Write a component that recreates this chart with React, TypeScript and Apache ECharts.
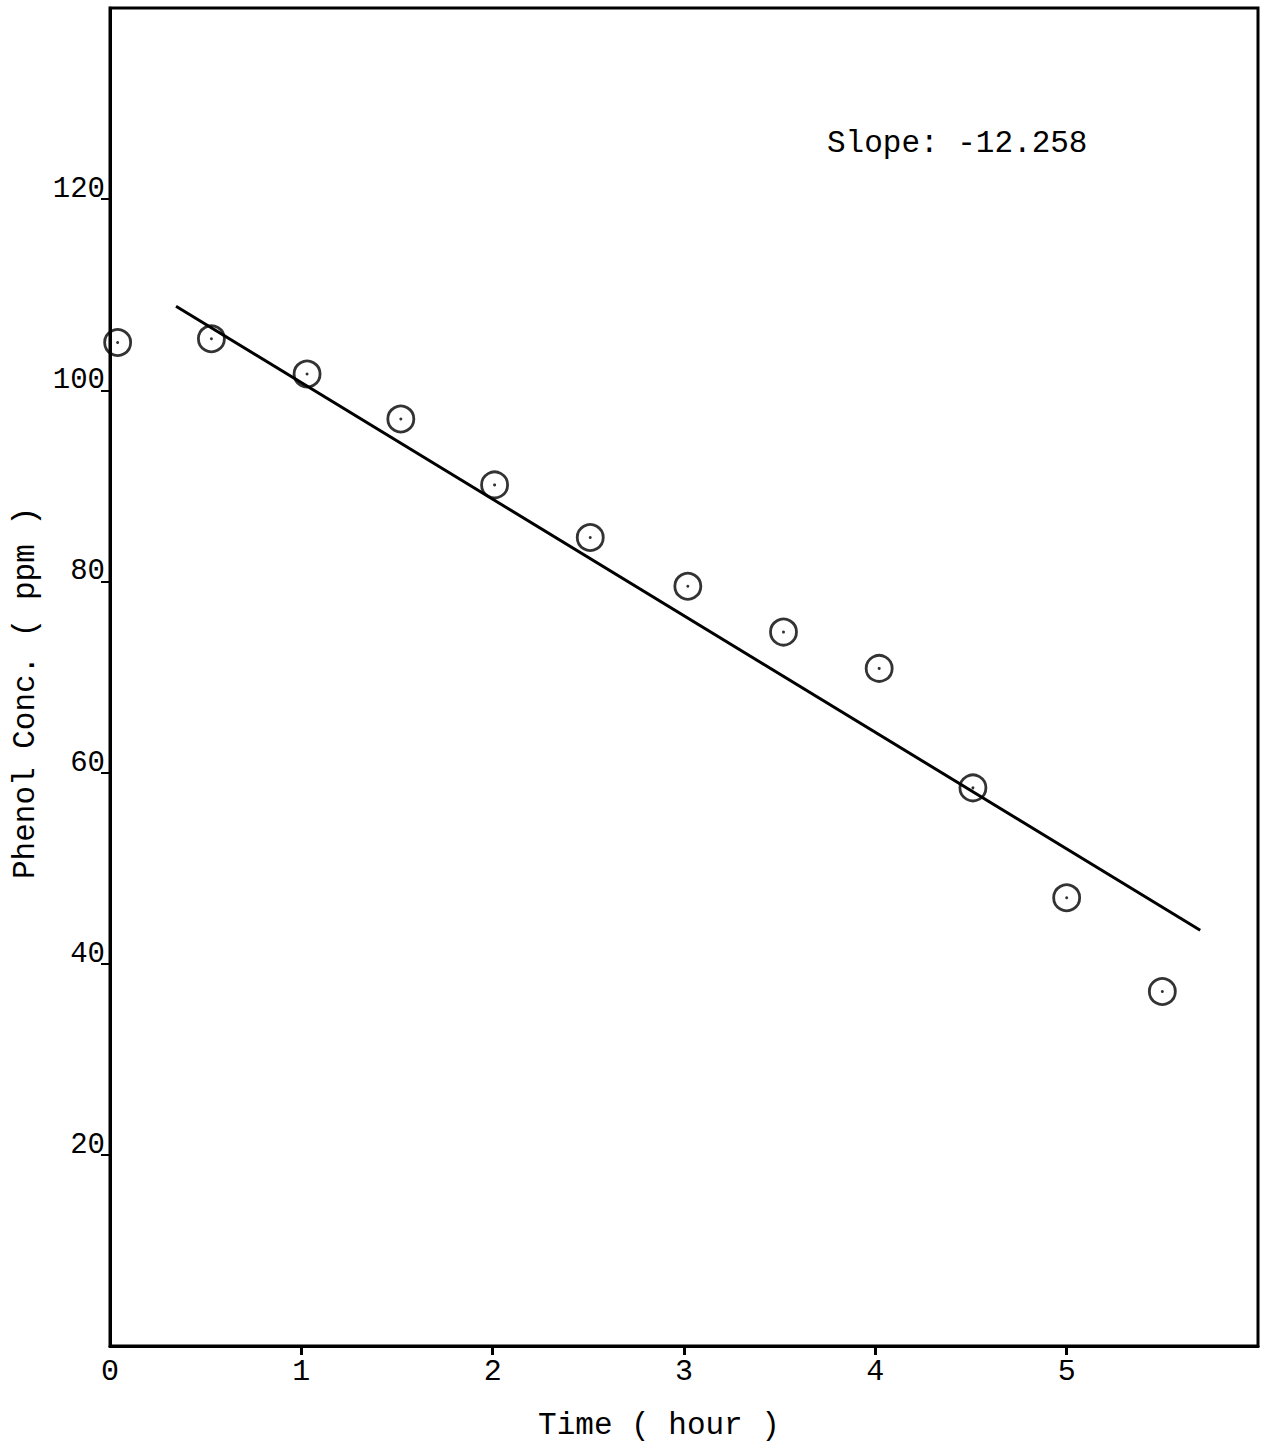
import React, { useEffect, useRef } from "react";
import * as echarts from "echarts";

// Time (hour) and phenol concentration (ppm)
const timeHours = [0.04, 0.53, 1.03, 1.52, 2.01, 2.51, 3.02, 3.52, 4.02, 4.51, 5.0, 5.5];
const phenolPpm = [105.0, 105.4, 101.7, 97.0, 90.1, 84.6, 79.5, 74.7, 70.9, 58.4, 46.9, 37.1];

// Fitted line end points
const fitTimes = [0.345, 5.698];
const fitValues = [108.8, 43.5];

const xTickValues = [1, 2, 3, 4, 5];
const xLabelValues = [0, 1, 2, 3, 4, 5];
const yTickValues = [20, 40, 60, 80, 100, 120];

const slopeText = "Slope: -12.258";
const xTitle = "Time ( hour )";
const yTitle = "Phenol Conc. ( ppm )";

const FONT = "'Liberation Mono', 'DejaVu Sans Mono', monospace";

export default function App() {
  const ref = useRef<HTMLDivElement>(null);
  useEffect(() => {
    if (!ref.current) return;
    const chart = echarts.init(ref.current, undefined, { renderer: "svg" });
    const points = timeHours.map((t, i) => [t, phenolPpm[i]]);
    const fit = fitTimes.map((t, i) => [t, fitValues[i]]);
    chart.setOption({
      animation: false,
      backgroundColor: "#ffffff",
      grid: {
        left: 110,
        right: 14,
        top: 8,
        bottom: 96,
        show: true,
        borderColor: "#000",
        borderWidth: 3,
        backgroundColor: "transparent",
      },
      xAxis: {
        type: "value",
        min: 0,
        max: 6,
        interval: 1,
        axisLine: { show: true, lineStyle: { color: "#000", width: 3 } },
        axisTick: {
          show: true,
          inside: false,
          length: 9,
          customValues: xTickValues,
          lineStyle: { color: "#000", width: 3 },
        },
        axisLabel: {
          customValues: xLabelValues,
          color: "#000",
          fontFamily: FONT,
          fontSize: 30,
          margin: 11,
        },
        splitLine: { show: false },
      },
      yAxis: {
        type: "value",
        min: 0,
        max: 140,
        interval: 20,
        axisLine: { show: true, lineStyle: { color: "#000", width: 3 } },
        axisTick: {
          show: true,
          inside: false,
          length: 9,
          customValues: yTickValues,
          lineStyle: { color: "#000", width: 2 },
        },
        axisLabel: {
          customValues: yTickValues,
          color: "#000",
          fontFamily: FONT,
          fontSize: 29,
          margin: 5,
          verticalAlign: "bottom",
          padding: [0, 0, -5, 0],
        },
        splitLine: { show: false },
      },
      series: [
        {
          type: "line",
          data: fit,
          symbol: "none",
          lineStyle: { color: "#000", width: 3 },
          z: 2,
        },
        {
          type: "scatter",
          data: points,
          symbol: "circle",
          symbolSize: 26,
          itemStyle: { color: "rgba(0,0,0,0)", borderColor: "#000", borderWidth: 2.8 },
          z: 3,
        },
        {
          type: "scatter",
          data: points,
          symbol: "circle",
          symbolSize: 3,
          itemStyle: { color: "#000" },
          z: 4,
        },
      ],
      graphic: [
        {
          type: "text",
          left: 827,
          top: 128,
          style: { text: slopeText, fill: "#000", font: `31px ${FONT}` },
        },
        {
          type: "text",
          x: 659,
          y: 1425,
          style: {
            text: xTitle,
            fill: "#000",
            font: `31px ${FONT}`,
            align: "center",
            verticalAlign: "middle",
          },
        },
        {
          type: "text",
          x: 25,
          y: 693,
          rotation: Math.PI / 2,
          style: {
            text: yTitle,
            fill: "#000",
            font: `31px ${FONT}`,
            align: "center",
            verticalAlign: "middle",
          },
        },
      ],
    });
    return () => chart.dispose();
  }, []);
  return (
    <div
      ref={ref}
      style={{ position: "fixed", left: 0, top: 0, width: 1272, height: 1442, background: "#fff" }}
    />
  );
}
